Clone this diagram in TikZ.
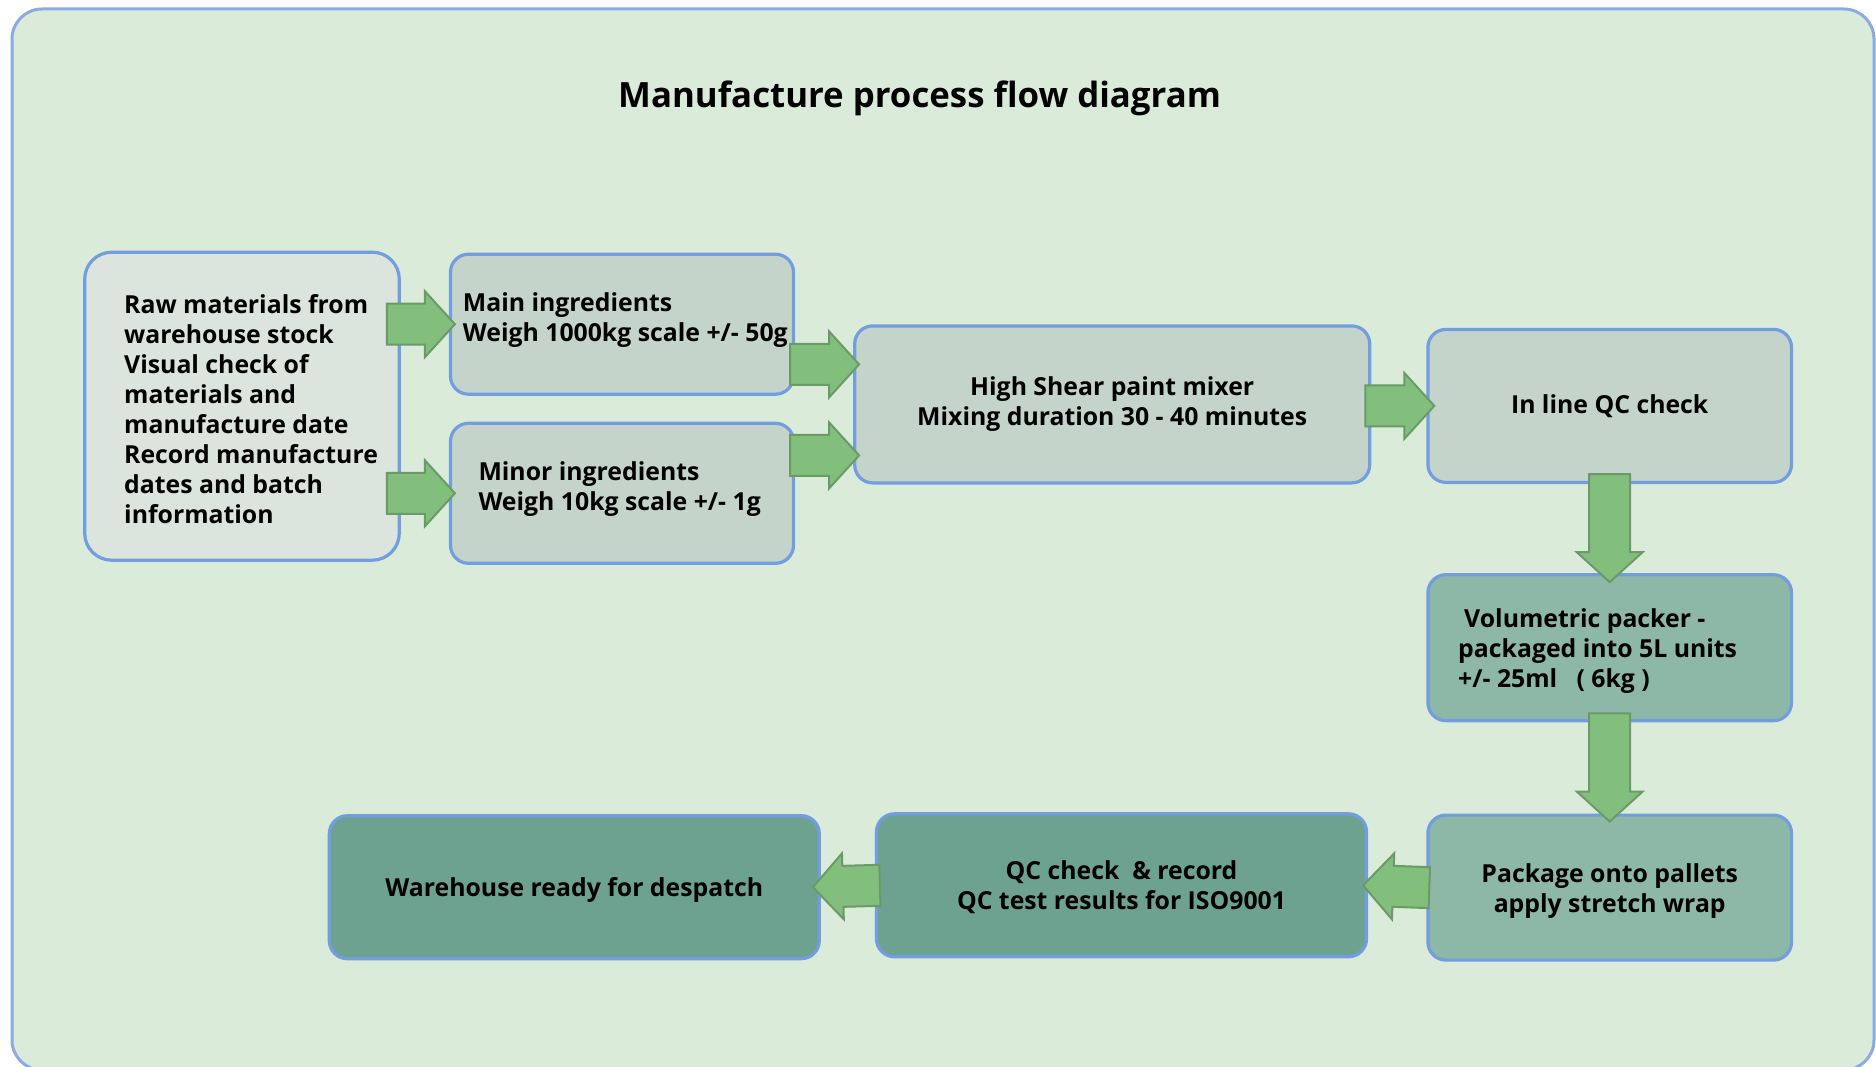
\documentclass[tikz,border=0pt]{standalone}
\usepackage{fontspec}
\setmainfont{Open Sans}
\usetikzlibrary{calc}
\definecolor{panel}{HTML}{DBEBDA}
\definecolor{panelline}{HTML}{8AACE0}
\definecolor{boxline}{HTML}{729EE0}
\definecolor{rawfill}{HTML}{DCE5DD}
\definecolor{stepfill}{HTML}{C4D4CB}
\definecolor{packfill}{HTML}{8DB7A6}
\definecolor{storefill}{HTML}{6DA290}
\definecolor{flowfill}{HTML}{82BF7C}
\definecolor{flowline}{HTML}{6A9B67}
\newcommand{\bodyfont}{\fontsize{24.8}{30}\selectfont\bfseries}
\tikzstyle{frame} = [draw=panelline,line width=3pt,fill=panel,rounded corners=30pt]
\tikzstyle{box} = [draw=boxline,line width=3.2pt,rounded corners=18pt,inner sep=0pt]
\tikzstyle{box label} = [font=\bodyfont,align=center,inner sep=0pt]
\tikzstyle{box text} = [font=\bodyfont,align=left,inner sep=0pt,anchor=base west]
\tikzstyle{flow} = [draw=flowline,line width=2pt,fill=flowfill,line join=miter]
% block arrow from tail #1 to tip #2
\newcommand{\flowarrow}[2]{%
  \coordinate (fa) at (#1);
  \coordinate (fb) at (#2);
  \coordinate (fh) at ($(fb)!30pt!(fa)$);
  \draw[flow] ($(fa)!20.5pt!90:(fb)$) -- ($(fh)!20.5pt!90:(fb)$) -- ($(fh)!33pt!90:(fb)$) -- (fb)
    -- ($(fh)!33pt!-90:(fb)$) -- ($(fh)!20.5pt!-90:(fb)$) -- ($(fa)!20.5pt!-90:(fb)$) -- cycle;}
\begin{document}
\begin{tikzpicture}[x=1pt,y=-1pt]
        \useasboundingbox (0,0) rectangle (1876,1067);
        \fill[white] (0,0) rectangle (1876,1067);
        % panel
        \draw[frame] (12,9) rectangle (1874,1070);
        \node[font=\fontsize{34.8}{40}\selectfont\bfseries,anchor=base] (title) at (919.6,108) {Manufacture process flow diagram};

        % draw boxes
        \node[box,fill=rawfill,rounded corners=27pt,minimum width=314.6pt,minimum height=308pt] (raw) at (242,406.2) {};
        \node[box,fill=stepfill,minimum width=343pt,minimum height=140pt] (main) at (622,324.2) {};
        \node[box,fill=stepfill,minimum width=343pt,minimum height=140pt] (minor) at (622,493.3) {};
        \node[box,fill=stepfill,box label,minimum width=515pt,minimum height=157pt] (mixer) at (1112.2,404.4) {High Shear paint mixer\\Mixing duration 30 - 40 minutes};
        \node[box,fill=stepfill,box label,minimum width=363.6pt,minimum height=153pt] (qc) at (1609.7,405.9) {In line QC check};
        \node[box,fill=packfill,minimum width=363.6pt,minimum height=146pt] (vol) at (1609.7,647.7) {};
        \node[box,fill=packfill,box label,text depth=0pt,minimum width=363.6pt,minimum height=145pt] (pallets) at (1609.7,887.6) {Package onto pallets\\apply stretch wrap};
        \node[box,fill=storefill,box label,text depth=0pt,minimum width=490pt,minimum height=143pt] (qcrec) at (1121.5,885.3) {QC check\ \ \& record\\QC test results for ISO9001};
        \node[box,fill=storefill,box label,text depth=0pt,minimum width=490pt,minimum height=143pt] (store) at (574.3,887.2) {Warehouse ready for despatch};

        % draw left aligned texts (anchored at last baseline)
        \node[box text] (rawtext) at (124,523) {Raw materials from\\warehouse stock\\Visual check of\\materials and\\manufacture date\\Record manufacture\\dates and batch\\information};
        \node[box text] (maintext) at (462.7,341) {Main ingredients\\Weigh 1000kg scale +/- 50g};
        \node[box text] (minortext) at (478.3,510) {Minor ingredients\\Weigh 10kg scale +/- 1g};
        \node[box text] (voltext) at (1458,687.2) {\hspace{6pt}Volumetric packer -\\packaged into 5L units\\+/- 25ml\ \ \ ( 6kg )};

        % draw arrows
        \flowarrow{$(raw.east |- main.west)+(-14,0)$}{$(main.west)+(6,0)$}
        \flowarrow{$(raw.east |- minor.west)+(-14,0)$}{$(minor.west)+(6,0)$}
        \flowarrow{$(main.east |- mixer.west)+(-5,-40)$}{$(mixer.west)+(6,-40)$}
        \flowarrow{$(minor.east |- mixer.west)+(-5,51)$}{$(mixer.west)+(6,51)$}
        \flowarrow{$(mixer.east |- qc.west)+(-6,0)$}{$(qc.west)+(8,0)$}
        \flowarrow{$(qc.south)+(0,-10)$}{$(vol.north)+(0,9)$}
        \flowarrow{$(vol.south)+(0,-9)$}{$(pallets.north)+(0,8)$}
        \flowarrow{$(pallets.west)+(3,0)$}{$(qcrec.east)+(-5,0)$}
        \flowarrow{$(qcrec.west)+(5,0)$}{$(store.east)+(-8,0)$}
\end{tikzpicture}
\end{document}
